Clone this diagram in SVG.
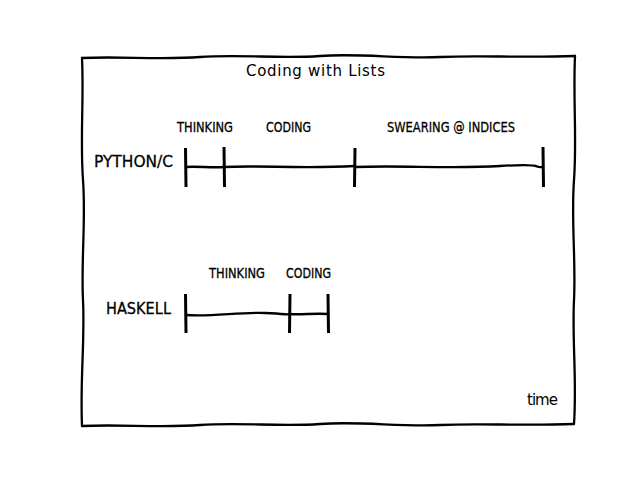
<svg xmlns="http://www.w3.org/2000/svg" width="640" height="480" viewBox="0 0 640 480">
<style>
.ln{fill:none;stroke:#000;stroke-width:2.3;stroke-linecap:round;stroke-linejoin:round}
.tk{fill:none;stroke:#000;stroke-width:3;stroke-linecap:butt}
.lab{font-family:"DejaVu Sans","Liberation Sans",sans-serif;font-size:14px;fill:#000;stroke:#000;stroke-width:0.3;text-anchor:start}
.row{font-family:"DejaVu Sans","Liberation Sans",sans-serif;font-size:16px;fill:#000;stroke:#000;stroke-width:0.3;text-anchor:start}
.ttl{font-family:"DejaVu Sans","Liberation Sans",sans-serif;font-size:15px;fill:#000;text-anchor:start}
</style>
<rect width="640" height="480" fill="#fff"/>
<g id="frame">
<path class="ln" d="M82,58 C120,56 160,60 200,57 S280,59 320,56 S400,59 440,57 S520,58 575,56"/>
<path class="ln" d="M82,426 C120,424 160,428 200,425 S280,427 320,424 S400,427 440,425 S520,426 574,424"/>
<path class="ln" d="M82,58 C84,100 80,140 83,180 S81,260 83,300 S80,380 82,426"/>
<path class="ln" d="M575,56 C573,100 577,140 574,180 S576,260 574,300 S577,380 574,424"/>
</g>
<text class="ttl" x="246" y="76" textLength="139" lengthAdjust="spacing">Coding with Lists</text>
<g id="connectors">
<path class="ln" d="M186,167 C196,166 212,168 224,167"/>
<path class="ln" d="M224,167 C260,165 300,169 355,166"/>
<path class="ln" d="M355,167 C400,165 450,169 500,166 S530,168 543,167"/>
<path class="ln" d="M186,315 C210,317 240,312 265,313 S285,315 290,314"/>
<path class="ln" d="M290,314 C300,315 315,313 328,314"/>
</g>
<g id="python">
<text class="row" x="94" y="167" textLength="79" lengthAdjust="spacingAndGlyphs">PYTHON/C</text>
<path class="tk" d="M185.5,148 L186,187"/>
<path class="tk" d="M224,147 L224.5,187"/>
<path class="tk" d="M355,148 L354.5,187"/>
<path class="tk" d="M543,147 L543.5,187"/>
<text class="lab" x="177" y="132" textLength="56" lengthAdjust="spacingAndGlyphs">THINKING</text>
<text class="lab" x="266" y="132" textLength="45" lengthAdjust="spacingAndGlyphs">CODING</text>
<text class="lab" x="387" y="132" textLength="128" lengthAdjust="spacingAndGlyphs">SWEARING @ INDICES</text>
</g>
<g id="haskell">
<text class="row" x="106" y="314" textLength="65" lengthAdjust="spacingAndGlyphs">HASKELL</text>
<path class="tk" d="M185.5,294 L186,333"/>
<path class="tk" d="M290,294 L289.5,333"/>
<path class="tk" d="M328,294 L328.5,333"/>
<text class="lab" x="209" y="278" textLength="56" lengthAdjust="spacingAndGlyphs">THINKING</text>
<text class="lab" x="286" y="278" textLength="45" lengthAdjust="spacingAndGlyphs">CODING</text>
</g>
<text class="ttl" x="527" y="405" textLength="31" lengthAdjust="spacing">time</text>
</svg>
